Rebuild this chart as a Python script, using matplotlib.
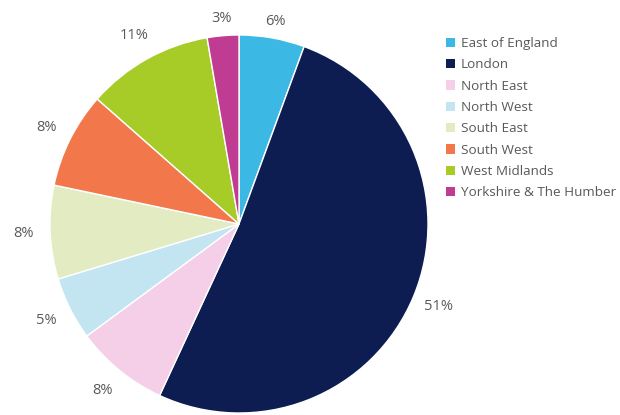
import numpy as np
import matplotlib
matplotlib.use('Agg')
from matplotlib import pyplot as plt
from matplotlib.patches import Patch

REGIONS = ['East of England', 'London', 'North East', 'North West',
           'South East', 'South West', 'West Midlands', 'Yorkshire & The Humber']
SHARES = [5.6, 51.3, 8.0, 5.4, 8.0, 8.2, 10.8, 2.7]
COLORS = ['#3BB9E4', '#0D1D52', '#F5CFE8', '#C3E5F1',
          '#E3EBC3', '#F2784B', '#A7CB27', '#C03C92']

TEXT_COLOR = '#595959'

plt.rcParams['font.family'] = ['Open Sans', 'DejaVu Sans']

fig = plt.figure(figsize=(6.2, 4.15), dpi=100)

# pie centre at about (239, 224) px, radius ~189 px
W, H = 620, 415
cx, cy, r = 239, 224, 189
ax = fig.add_axes([(cx - r) / W, (H - cy - r) / H, 2 * r / W, 2 * r / H])

wedges, texts = ax.pie(SHARES, colors=COLORS, startangle=90, counterclock=False,
                       wedgeprops=dict(edgecolor='white', linewidth=1))
ax.set_xlim(-1, 1)
ax.set_ylim(-1, 1)
ax.set_aspect('equal')

# percentage labels outside the pie
total = float(sum(SHARES))
cum = 0
for v in SHARES:
    mid = 90 - 360 * (cum + v / 2) / total
    cum += v
    d = 1.14 if abs(np.sin(np.radians(mid))) < 0.95 else 1.09
    ax.text(d * np.cos(np.radians(mid)), d * np.sin(np.radians(mid)),
            '%d%%' % round(v), ha='center', va='center', fontsize=10.5,
            color=TEXT_COLOR, clip_on=False)

handles = [Patch(facecolor=c, edgecolor='none') for c in COLORS]
fig.legend(handles, REGIONS, loc='upper left', bbox_to_anchor=(446 / W, 1 - 37 / H),
           frameon=False, fontsize=9.7, labelcolor=TEXT_COLOR,
           handlelength=0.7, handleheight=0.7, handletextpad=0.4,
           labelspacing=0.62, borderaxespad=0, borderpad=0)

fig.savefig('out.png', dpi=100)
